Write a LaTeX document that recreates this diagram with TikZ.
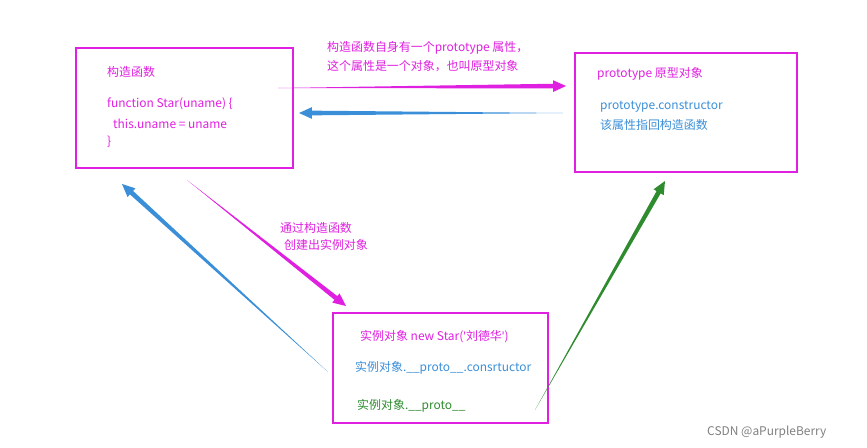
\documentclass[tikz,border=0pt]{standalone}
\usepackage{fontspec}
\setmainfont{Noto Sans CJK SC}
\newfontfamily\latinf{Noto Sans}
\usetikzlibrary{calc}
\definecolor{mag}{HTML}{E020E0}
\definecolor{blu}{HTML}{3A8FD8}
\definecolor{grn}{HTML}{2E8B2E}
\newcommand\warrow[3]{%
  \fill[#3] (#1) -- ($($(#2)!11pt!(#1)$)!2pt!90:(#2)$) -- ($($(#2)!11pt!(#1)$)!5pt!90:(#2)$) -- (#2)
   -- ($($(#2)!11pt!(#1)$)!5pt!-90:(#2)$) -- ($($(#2)!11pt!(#1)$)!2pt!-90:(#2)$) -- cycle;}
\begin{document}
\begin{tikzpicture}[x=0.03cm,y=-0.03cm,
  box/.style={draw=mag,line width=1.3pt},
  t/.style={anchor=west,inner sep=0pt,font=\fontsize{10.2}{12}\selectfont},
  lab/.style={t,text=mag,align=left}]
\useasboundingbox[fill=white] (0,0) rectangle (867,447);
\draw[box] (76,48) rectangle (293,168);
\draw[box] (575,53) rectangle (797,172);
\draw[box] (333,313) rectangle (548,423);
\node[lab] (b1a) at (107,72) {构造函数};
\node[lab] (b1b) at (107,104) {function Star(uname) \{};
\node[lab] (b1c) at (113,124) {this.uname = uname};
\node[lab] (b1d) at (107,142) {\}};
\node[lab] (top1) at (327,48) {构造函数自身有一个prototype 属性，};
\node[lab] (top2) at (327,66) {这个属性是一个对象，也叫原型对象};
\node[lab] (b2a) at (597,74) {prototype 原型对象};
\node[t,text=blu] (b2b) at (600,107) {prototype.constructor};
\node[t,text=blu] (b2c) at (600,125) {该属性指回构造函数};
\node[lab] (m1) at (280,228) {通过构造函数};
\node[lab] (m2) at (284,245) {创建出实例对象};
\node[lab] (b3a) at (360,337) {实例对象 new Star({\latinf\textquotesingle}刘德华{\latinf\textquotesingle})};
\node[t,text=blu] (b3b) at (355,368) {实例对象.\_\_proto\_\_.consrtuctor};
\node[t,text=grn] (b3c) at (357,406) {实例对象.\_\_proto\_\_};
\node[t,text=gray] (csdn) at (707,432) {CSDN @aPurpleBerry};
\coordinate (a1s) at (278,88); \coordinate (a1e) at (566,86);
\coordinate (a2s) at (563,113); \coordinate (a2e) at (299,113);
\coordinate (a3s) at (187,180); \coordinate (a3e) at (346,306);
\coordinate (a4s) at (328,372); \coordinate (a4e) at (122,184);
\coordinate (a5s) at (535,410); \coordinate (a5e) at (665,181);
\warrow{a1s}{a1e}{mag}
\warrow{a2s}{a2e}{blu}
\warrow{a3s}{a3e}{mag}
\warrow{a4s}{a4e}{blu}
\warrow{a5s}{a5e}{grn}
\end{tikzpicture}
\end{document}
